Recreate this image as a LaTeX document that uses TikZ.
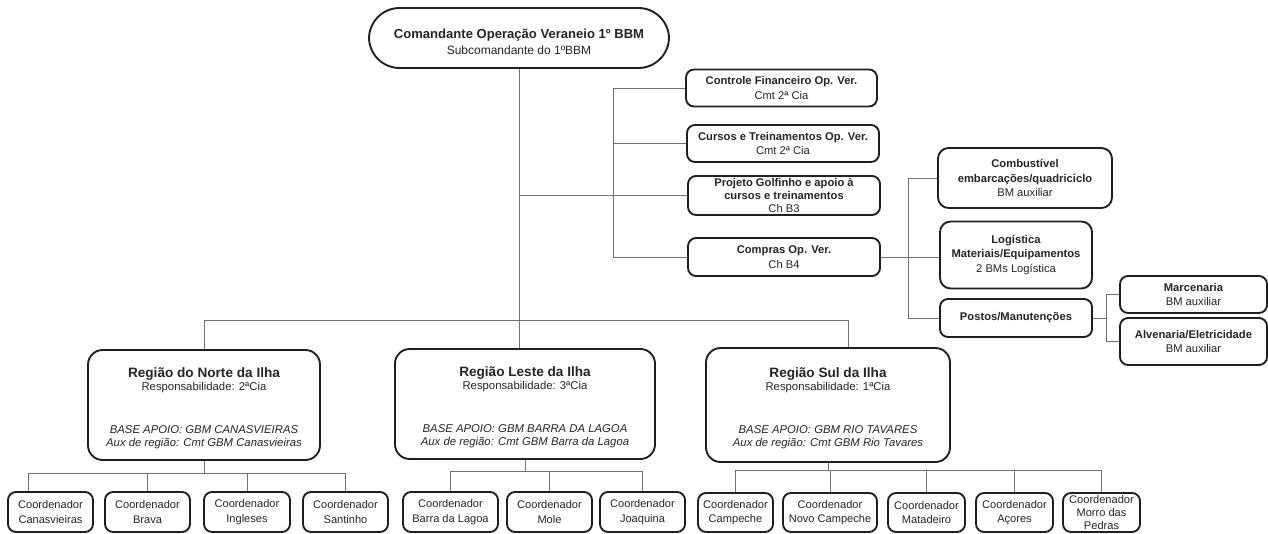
\documentclass[tikz,border=0pt]{standalone}
\usepackage{fontspec}
\setmainfont{Liberation Sans}
\definecolor{bd}{HTML}{1E1E1E}
\definecolor{ln}{HTML}{707070}
\definecolor{tx}{HTML}{252525}
\newcommand\myfs{\fontsize{8.4}{10.8}\selectfont}
\newcommand\regfs{\fontsize{8.5}{10}\selectfont}
\newcommand\regtitle{\fontsize{10.2}{10.5}\selectfont\bfseries}
\begin{document}
\begin{tikzpicture}[x=0.75pt,y=-0.75pt,
  box/.style={draw=bd, line width=1.4pt, rounded corners=6pt, align=center, inner sep=0pt, text=tx, font=\myfs, fill=white},
  sz/.style 2 args={minimum width=#1*0.75pt, minimum height=#2*0.75pt},
  regbox/.style={box, rounded corners=11pt, font=\regfs},
  coordbox/.style={box, font=\fontsize{8.3}{10.8}\selectfont},
  con/.style={draw=ln, line width=0.7pt}]
\useasboundingbox (0,0) rectangle (1268,534);

% top
\node[box, sz={300}{60}, rounded corners=23pt, font=\fontsize{9}{12}\selectfont] (top) at (519,38)
  {\rule{0pt}{13pt}{\fontsize{9.8}{12}\selectfont\bfseries Comandante Operação Veraneio 1º BBM}\\Subcomandante do 1ºBBM};

% staff boxes
\node[box, sz={191}{37}] (controle) at (781.5,88) {\textbf{Controle Financeiro Op. Ver.}\\Cmt 2ª Cia};
\node[box, sz={192}{37}] (cursos) at (783,143.5) {\textbf{Cursos e Treinamentos Op. Ver.}\\Cmt 2ª Cia};
\node[box, sz={192}{39}, font=\fontsize{8.4}{10}\selectfont] (projeto) at (784,195.5) {\textbf{Projeto Golfinho e apoio à}\\\textbf{cursos e treinamentos}\\Ch B3};
\node[box, sz={192}{38}] (compras) at (784,257) {\textbf{Compras Op. Ver.}\\Ch B4};

% logistics
\node[box, sz={174}{60}, rounded corners=8pt] (combust) at (1025,178) {\textbf{Combustível}\\\textbf{embarcações/quadriciclo}\\BM auxiliar};
\node[box, sz={152}{67}, rounded corners=8pt] (logist) at (1016,255) {\textbf{Logística}\\\textbf{Materiais/Equipamentos}\\2 BMs Logística};
\node[box, sz={152}{38}] (postos) at (1016,318) {\textbf{Postos/Manutenções}};
\node[box, sz={147}{37}] (marc) at (1193.5,294.5) {\textbf{Marcenaria}\\BM auxiliar};
\node[box, sz={147}{47}] (alv) at (1193.5,341.5) {\textbf{Alvenaria/Eletricidade}\\BM auxiliar};

% regions
\node[regbox, sz={232}{110}] (norte) at (204,405)
  {\rule{0pt}{12pt}{\regtitle Região do Norte da Ilha}\\Responsabilidade: 2ªCia\\[22pt]\textit{BASE APOIO: GBM CANASVIEIRAS}\\\textit{Aux de região: Cmt GBM Canasvieiras}};
\node[regbox, sz={260}{110}] (leste) at (525,404)
  {\rule{0pt}{12pt}{\regtitle Região Leste da Ilha}\\Responsabilidade: 3ªCia\\[22pt]\textit{BASE APOIO: GBM BARRA DA LAGOA}\\\textit{Aux de região: Cmt GBM Barra da Lagoa}};
\node[regbox, sz={244}{114}] (sul) at (828,405)
  {\rule{0pt}{12pt}{\regtitle Região Sul da Ilha}\\Responsabilidade: 1ªCia\\[22pt]\textit{BASE APOIO: GBM RIO TAVARES}\\\textit{Aux de região: Cmt GBM Rio Tavares}};

% coordinators
\node[coordbox, sz={85}{40}] (c1) at (50.5,512) {Coordenador\\Canasvieiras};
\node[coordbox, sz={85}{40}] (c2) at (147.5,512) {Coordenador\\Brava};
\node[coordbox, sz={86}{40}] (c3) at (247,512) {Coordenador\\Ingleses};
\node[coordbox, sz={85}{40}] (c4) at (345.5,512) {Coordenador\\Santinho};
\node[coordbox, sz={95}{40}] (l1) at (450.5,512) {Coordenador\\Barra da Lagoa};
\node[coordbox, sz={85}{40}] (l2) at (549.5,512) {Coordenador\\Mole};
\node[coordbox, sz={85}{40}] (l3) at (642.5,512) {Coordenador\\Joaquina};
\node[coordbox, sz={75}{39}] (s1) at (735.5,512.5) {Coordenador\\Campeche};
\node[coordbox, sz={94}{39}] (s2) at (830,512.5) {Coordenador\\Novo Campeche};
\node[coordbox, sz={77}{39}] (s3) at (926.5,512.5) {Coordenador\\Matadeiro};
\node[coordbox, sz={77}{39}] (s4) at (1014.5,512.5) {Coordenador\\Açores};
\node[coordbox, sz={77}{39}, font=\fontsize{8.3}{9.6}\selectfont] (s5) at (1101.5,512.5) {Coordenador\\Morro das\\Pedras};

% coordinates for buses
\coordinate (busM) at (519,320);
\coordinate (busL) at (204,320);
\coordinate (busR) at (848,320);
\coordinate (br) at (613,0);
\coordinate (br2) at (908,0);
\coordinate (br3) at (1106,0);
\coordinate (nb) at (0,473);
\coordinate (lb) at (0,471);
\coordinate (sb) at (0,470);
\coordinate (c1d) at (28,473);

% connectors
\draw[con] (top.south) -- (busM);
\draw[con] (busL) -- (busR);
\draw[con] (busL) -- (busL |- norte.north);
\draw[con] (busM) -- (busM |- leste.north);
\draw[con] (busR) -- (busR |- sul.north);

\draw[con] (controle.west) -- (controle.west -| br) -- (compras.west -| br) -- (compras.west);
\draw[con] (cursos.west) -- (cursos.west -| br);
\draw[con] (projeto.west -| top.south) -- (projeto.west);

\draw[con] (compras.east) -- (compras.east -| logist.west);
\draw[con] (combust.west) -- (combust.west -| br2) -- (postos.west -| br2) -- (postos.west);
\draw[con] (postos.east) -- (postos.east -| br3);
\draw[con] (marc.west) -- (marc.west -| br3) -- (alv.west -| br3) -- (alv.west);

% Norte coordinators
\draw[con] (norte.south) -- (norte.south |- nb);
\draw[con] (c1d) -- (c4.north |- nb);
\draw[con] (c1d) -- (c1d |- c1.north);
\draw[con] (c2.north |- nb) -- (c2.north);
\draw[con] (c3.north |- nb) -- (c3.north);
\draw[con] (c4.north |- nb) -- (c4.north);

% Leste coordinators
\draw[con] (leste.south) -- (leste.south |- lb);
\draw[con] (l1.north |- lb) -- (l3.north |- lb);
\draw[con] (l1.north |- lb) -- (l1.north);
\draw[con] (l2.north |- lb) -- (l2.north);
\draw[con] (l3.north |- lb) -- (l3.north);

% Sul coordinators
\draw[con] (sul.south) -- (sul.south |- sb);
\draw[con] (s1.north |- sb) -- (s5.north |- sb);
\draw[con] (s1.north |- sb) -- (s1.north);
\draw[con] (s2.north |- sb) -- (s2.north);
\draw[con] (s3.north |- sb) -- (s3.north);
\draw[con] (s4.north |- sb) -- (s4.north);
\draw[con] (s5.north |- sb) -- (s5.north);
\end{tikzpicture}
\end{document}
